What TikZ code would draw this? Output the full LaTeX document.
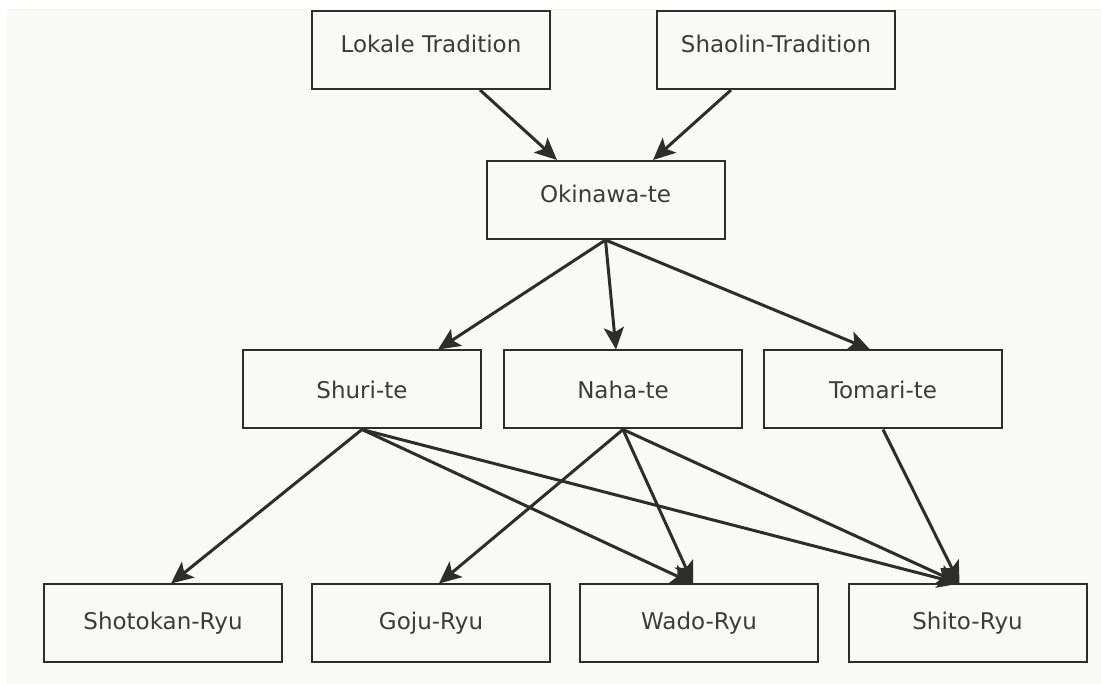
\documentclass[tikz,border=0pt]{standalone}
\usepackage{fontspec}
\setmainfont{DejaVu Sans}
\usepackage{tikz}
\usetikzlibrary{arrows.meta,calc}
\usepackage{xcolor}
\definecolor{cBack}{RGB}{249,249,247}
\definecolor{cLine}{RGB}{45,45,45}
\definecolor{cText}{RGB}{60,60,60}

\begin{document}
\begin{tikzpicture}[x=0.5pt, y=0.5pt,
  font=\fontsize{11.5}{14}\selectfont,
  karate/.style={draw=cLine, line width=1pt, fill=cBack, text=cText,
    minimum width=119pt, minimum height=39pt, inner sep=0pt},
  raised/.style={text depth=6pt},
  conn/.style={draw=cLine, line width=1.5pt, -{Stealth[length=11pt,width=10pt,inset=2.5pt]}}]
% 1 unit = 1 px of the 1101 x 684 frame
\useasboundingbox (0,0) rectangle (1101,684);
\fill[cBack] (7,0) rectangle (1101,675);
% sources
\node[karate, raised] (lokal)   at (431,634)   {Lokale Tradition};
\node[karate, raised] (shaolin) at (776,634)   {Shaolin-Tradition};
\node[karate, raised] (okinawa) at (605.5,484) {Okinawa-te};
% three te
\node[karate] (shuri)  at (362,294.5) {Shuri-te};
\node[karate] (naha)   at (623,294.5) {Naha-te};
\node[karate] (tomari) at (883,294.5) {Tomari-te};
% four ryu
\node[karate] (shotokan) at (163,60.5)   {Shotokan-Ryu};
\node[karate] (goju)     at (431,60.5)   {Goju-Ryu};
\node[karate] (wado)     at (699,60.5)   {Wado-Ryu};
\node[karate] (shito)    at (967.5,60.5) {Shito-Ryu};
% arrow ends
\coordinate (okiL)   at ($(okinawa.north)+(-48.5,0)$);
\coordinate (okiR)   at ($(okinawa.north)+(47.5,0)$);
\coordinate (shuriIn)  at ($(shuri.north)+(76,0)$);
\coordinate (nahaIn)   at ($(naha.north)+(-7,0)$);
\coordinate (tomariIn) at ($(tomari.north)+(-13,0)$);
\coordinate (shotoIn)  at ($(shotokan.north)+(8,0)$);
\coordinate (gojuIn)   at ($(goju.north)+(8,0)$);
\coordinate (wadoIn)   at ($(wado.north)+(-6,0)$);
\coordinate (shitoIn)  at ($(shito.north)+(-8,0)$);
\draw[conn] ($(lokal.south)+(49,0)$) -- (okiL);
\draw[conn] ($(shaolin.south)+(-45,0)$) -- (okiR);
\foreach \a/\b in {okinawa.south/shuriIn, okinawa.south/nahaIn, okinawa.south/tomariIn,
  shuri.south/shotoIn, shuri.south/wadoIn, shuri.south/shitoIn,
  naha.south/gojuIn, naha.south/wadoIn, naha.south/shitoIn, tomari.south/shitoIn}
  { \draw[conn] (\a) -- (\b); }
\end{tikzpicture}
\end{document}
